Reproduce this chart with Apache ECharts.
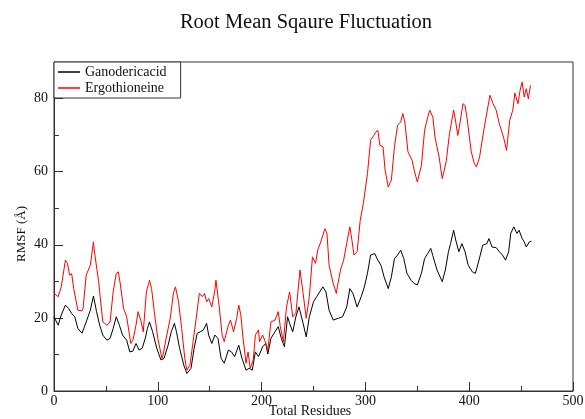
<!DOCTYPE html>
<html>
<head>
<meta charset="utf-8">
<script src="https://cdn.jsdelivr.net/npm/echarts@6/dist/echarts.min.js"></script>
<style>
  html, body { margin: 0; padding: 0; background: #fff; }
  #chart { width: 585px; height: 419px; }
</style>
</head>
<body>
<div id="chart"></div>
<script>
// residue numbers / RMSF values
const ganoRes = [0, 4, 7, 11, 14, 17, 20, 23, 27, 31, 35, 38, 41, 44, 47, 51, 54, 57, 60, 63, 66, 70, 73, 76, 79, 82, 85, 88, 90, 92, 95, 99, 103, 106, 110, 113, 116, 118, 121, 125, 128, 132, 135, 138, 141, 144, 147, 149, 152, 155, 158, 161, 164, 168, 171, 174, 178, 181, 185, 188, 191, 194, 197, 201, 204, 206, 209, 212, 216, 219, 222, 225, 227, 230, 233, 236, 240, 243, 246, 250, 253, 256, 259, 262, 265, 269, 274, 278, 282, 285, 288, 292, 296, 299, 302, 305, 309, 312, 315, 318, 322, 325, 328, 331, 334, 337, 340, 344, 347, 350, 354, 357, 360, 363, 365, 369, 374, 377, 380, 382, 385, 387, 390, 393, 396, 399, 403, 406, 409, 413, 417, 419, 422, 426, 429, 432, 435, 438, 440, 443, 446, 448, 451, 453, 455, 458, 460];
const ganoVal = [20.3, 18, 20.8, 23.5, 22.6, 21.2, 20.3, 17.1, 15.8, 18.9, 22.1, 26, 21.7, 18, 15.3, 13.9, 14.4, 17.1, 20.3, 18, 15.3, 13.9, 10.7, 10.9, 13, 11.2, 11.7, 14.5, 17.1, 18.9, 16.2, 11.7, 8.5, 8.9, 12.6, 16.2, 18.5, 16.2, 11.7, 7.1, 4.8, 6.2, 11.7, 15.8, 16.2, 16.7, 18.5, 15.3, 13, 15.3, 14.4, 8.9, 7.6, 11.2, 10.7, 9.4, 12.5, 9, 5.7, 6.2, 5.7, 10.7, 9.4, 12.1, 13, 10.1, 14.4, 15.8, 17.6, 14.4, 12.1, 20.3, 18.5, 16.2, 20.3, 23, 18.5, 14.8, 20.3, 24.4, 25.8, 27.1, 28.5, 27.1, 22.1, 19.4, 19.9, 20.3, 23, 28, 26.7, 23, 25.8, 28.5, 32.2, 37.2, 37.6, 35.8, 34.4, 31.2, 28, 31.2, 36.2, 37.2, 38.5, 36.2, 32.2, 30.3, 29.4, 29, 32.2, 36.2, 37.6, 39, 37, 33.1, 29.9, 33.1, 38.1, 40.3, 44, 41.3, 38.1, 40.3, 38.1, 34.4, 32.6, 32.2, 35.3, 39.9, 40.3, 41.7, 39.4, 39.2, 38.1, 37.2, 35.8, 38.1, 43.1, 44.9, 43.1, 44, 41.7, 40.8, 39.4, 40.8, 41];

const ergoRes = [0, 4, 7, 11, 13, 15, 17, 19, 23, 27, 28, 31, 35, 38, 39, 43, 47, 51, 54, 57, 60, 62, 64, 67, 70, 74, 76, 79, 81, 84, 86, 89, 92, 94, 97, 100, 104, 105, 108, 112, 115, 117, 120, 123, 126, 128, 131, 134, 137, 140, 143, 145, 147, 149, 152, 155, 156, 159, 162, 164, 168, 170, 173, 176, 178, 180, 182, 185, 187, 189, 192, 194, 197, 198, 201, 203, 206, 209, 213, 216, 218, 221, 224, 227, 230, 233, 237, 240, 243, 246, 249, 252, 254, 257, 261, 263, 265, 269, 272, 273, 276, 279, 282, 285, 287, 289, 292, 295, 298, 302, 305, 308, 310, 312, 314, 317, 319, 322, 325, 328, 331, 334, 336, 338, 341, 345, 347, 350, 354, 357, 360, 362, 365, 367, 371, 374, 376, 378, 381, 385, 387, 389, 391, 394, 396, 398, 402, 405, 407, 410, 414, 418, 420, 423, 426, 429, 433, 436, 439, 442, 444, 447, 449, 451, 453, 455, 457, 459];
const ergoVal = [26.7, 25.8, 28.5, 35.8, 34.9, 31.7, 32.1, 28, 22.1, 21.9, 22.6, 31.7, 34.4, 40.8, 38, 29.9, 18.9, 18, 18.9, 27.1, 32.2, 32.6, 29, 22.6, 20.3, 13, 13.9, 18, 21.7, 18.9, 16.2, 27.1, 30.3, 28, 20.8, 14.4, 8.9, 9.8, 14.4, 19.9, 26.7, 28.5, 24.4, 17.1, 8.9, 5.7, 7.1, 13.5, 19.9, 26.7, 25.8, 26.7, 24.4, 25.3, 23, 27.6, 30.3, 23.5, 15.3, 13.5, 18, 19.4, 16.2, 19.9, 23.5, 20.8, 14.8, 7.6, 10.7, 6.2, 8.5, 15.3, 16.7, 13.5, 15.3, 13.9, 11.2, 18.9, 19.4, 21.7, 17.6, 13.5, 23, 27.1, 20.3, 21.2, 33.1, 26.7, 19.9, 25.8, 36.7, 34.9, 38.5, 40.8, 44.4, 43.1, 34.4, 29.4, 26.7, 28.5, 33.1, 35.8, 40.4, 44.9, 41.3, 37.2, 38.1, 46.7, 51.3, 59.5, 68.6, 69.9, 70.8, 71.3, 67.2, 66.8, 60.4, 55.8, 57.7, 66.8, 72.7, 73.6, 75.9, 73.6, 65.4, 63.1, 60.4, 57.2, 61.7, 71.3, 74.9, 76.8, 74.9, 69.5, 64, 58.1, 60.4, 63.1, 70.4, 76.8, 73.6, 69.9, 73.1, 78.6, 78.1, 74.5, 65.4, 62.2, 61.3, 64, 71.3, 77.7, 80.9, 78.6, 76.8, 73.1, 69.5, 65.8, 74, 76.8, 81.5, 78.6, 82.2, 84.5, 80.4, 82.7, 79.9, 83.6];

const xTicks = [0, 100, 200, 300, 400, 500];
const yTicks = [0, 20, 40, 60, 80];

const font = '"Liberation Serif", "Times New Roman", serif';
const axisColor = '#333';

// zip the two arrays into [x, y] pairs
function pairs(xs, ys) {
    return xs.map((x, i) => [x, ys[i]]);
}

const chart = echarts.init(document.getElementById('chart'), null, { renderer: 'canvas' });

chart.setOption({
    animation: false,
    backgroundColor: '#fff',
    title: {
        text: 'Root Mean Sqaure Fluctuation',
        left: 306,
        top: 12,
        padding: 0,
        textAlign: 'center',
        textStyle: { fontFamily: font, fontSize: 20.5, fontWeight: 'normal', color: '#111' }
    },
    legend: {
        orient: 'vertical',
        left: 54,
        top: 62,
        padding: [3, 14, 3, 4],
        itemGap: 2,
        itemWidth: 22,
        itemHeight: 1.5,
        itemTextGap: 10,
        icon: 'rect',
        borderColor: '#333',
        borderWidth: 1,
        backgroundColor: '#fff',
        textStyle: { fontFamily: font, fontSize: 14, color: '#111' },
        data: ['Ganodericacid', 'Ergothioneine']
    },
    grid: {
        left: 54, right: 12, top: 62, bottom: 28,
        outerBoundsMode: 'none',
        containLabel: false,
        show: true,
        borderColor: axisColor,
        borderWidth: 1
    },
    // y axis title placed by hand so it sits where the original has it
    graphic: [{
        type: 'text',
        x: 22,
        y: 234,
        rotation: Math.PI / 2,
        style: {
            text: 'RMSF (Å)',
            font: '13px ' + font,
            fill: '#111',
            align: 'center',
            verticalAlign: 'middle'
        }
    }, {
        type: 'text',
        x: 310,
        y: 411,
        style: {
            text: 'Total Residues',
            font: '14px ' + font,
            fill: '#111',
            align: 'center',
            verticalAlign: 'middle'
        }
    }],
    xAxis: [{
        type: 'value',
        min: 0, max: 500, interval: 100,
        axisLine: { lineStyle: { color: axisColor, width: 1 } },
        axisTick: { inside: true, length: 9, lineStyle: { color: axisColor } },
        axisLabel: {
            margin: 3,
            fontFamily: font, fontSize: 14, color: '#111',
            formatter: v => xTicks.indexOf(v) >= 0 ? String(v) : ''
        },
        splitLine: { show: false }
    }, {
        // minor ticks every 50
        type: 'value',
        position: 'bottom',
        min: 0, max: 500, interval: 50,
        axisLine: { show: false },
        axisTick: { inside: true, length: 5, lineStyle: { color: axisColor } },
        axisLabel: { show: false },
        splitLine: { show: false }
    }],
    yAxis: [{
        type: 'value',
        min: 0, max: 90, interval: 20,
        axisLine: { lineStyle: { color: axisColor, width: 1 } },
        axisTick: { inside: true, length: 9, lineStyle: { color: axisColor } },
        axisLabel: {
            margin: 6,
            fontFamily: font, fontSize: 14, color: '#111',
            formatter: v => yTicks.indexOf(v) >= 0 ? String(v) : ''
        },
        splitLine: { show: false }
    }, {
        // minor ticks every 10
        type: 'value',
        position: 'left',
        min: 0, max: 90, interval: 10,
        axisLine: { show: false },
        axisTick: { inside: true, length: 5, lineStyle: { color: axisColor } },
        axisLabel: { show: false },
        splitLine: { show: false }
    }],
    series: [{
        name: 'Ganodericacid',
        type: 'line',
        showSymbol: false,
        color: '#000',
        lineStyle: { width: 1, color: '#000' },
        data: pairs(ganoRes, ganoVal)
    }, {
        name: 'Ergothioneine',
        type: 'line',
        showSymbol: false,
        color: '#ff0000',
        lineStyle: { width: 1, color: '#ff0000' },
        data: pairs(ergoRes, ergoVal)
    }]
});
</script>
</body>
</html>
